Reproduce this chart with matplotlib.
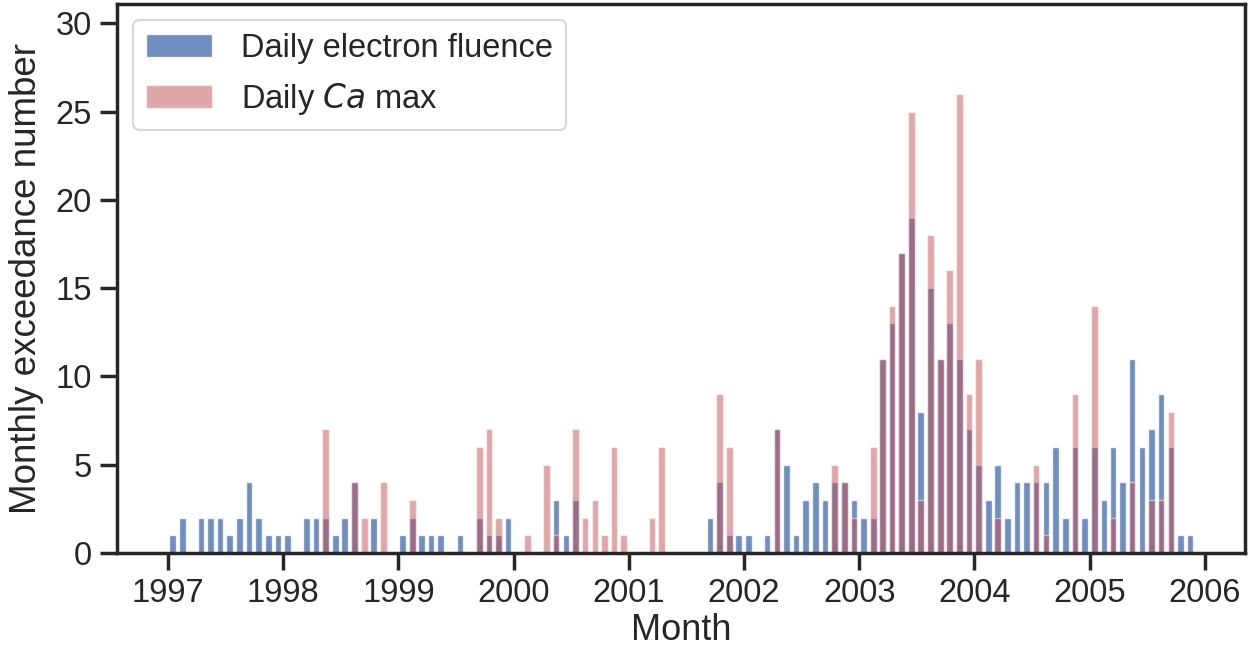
import matplotlib
matplotlib.use("Agg")
import matplotlib.pyplot as plt
import matplotlib.dates as mdates
import numpy as np
import pandas as pd

# monthly counts, Jan 1997 .. Dec 2005
electron = [
    1, 2, 0, 2, 2, 2, 1, 2, 4, 2, 1, 1,      # 1997
    1, 0, 2, 2, 2, 1, 2, 4, 0, 2, 0, 0,      # 1998
    1, 2, 1, 1, 1, 0, 1, 0, 2, 1, 1, 2,      # 1999
    0, 0, 0, 0, 3, 1, 3, 0, 0, 0, 0, 0,      # 2000
    0, 0, 0, 0, 0, 0, 0, 0, 2, 4, 1, 1,      # 2001
    1, 0, 1, 7, 5, 1, 3, 4, 3, 4, 4, 3,      # 2002
    2, 2, 11, 13, 17, 19, 8, 15, 11, 13, 11, 7,  # 2003
    5, 3, 5, 2, 4, 4, 4, 4, 6, 2, 6, 2,      # 2004
    6, 3, 6, 4, 11, 6, 7, 9, 6, 1, 1, 0,     # 2005
]
ca_max = [
    0, 0, 0, 0, 0, 0, 0, 0, 0, 0, 0, 0,
    0, 0, 0, 0, 7, 0, 0, 4, 2, 0, 4, 0,
    0, 3, 0, 0, 0, 0, 0, 0, 6, 7, 2, 0,
    0, 1, 0, 5, 1, 0, 7, 2, 3, 1, 6, 1,
    0, 0, 2, 6, 0, 0, 0, 0, 0, 9, 6, 0,
    0, 0, 0, 7, 0, 0, 0, 0, 0, 5, 4, 2,
    0, 6, 11, 14, 17, 25, 3, 18, 11, 16, 26, 9,
    11, 0, 2, 0, 0, 0, 5, 1, 0, 0, 9, 0,
    14, 0, 2, 0, 4, 0, 3, 3, 8, 0, 0, 0,
]
months = pd.date_range("1997-01-01", periods=len(electron), freq="MS")

plt.rcParams["font.family"] = ["Liberation Sans", "DejaVu Sans"]
plt.rcParams["text.color"] = "#262626"
plt.rcParams["axes.labelcolor"] = "#262626"
plt.rcParams["xtick.color"] = "#262626"
plt.rcParams["ytick.color"] = "#262626"

fig = plt.figure(figsize=(12.5, 6.52), dpi=100)
ax = fig.add_axes([0.0936, 0.152, 0.9024, 0.842])

x = months + pd.Timedelta(days=14)
ax.bar(x, electron, width=21, color="#4c72b0", alpha=0.8,
       edgecolor="white", linewidth=1, label="Daily electron fluence")
ax.bar(x, ca_max, width=21, color="#c44e52", alpha=0.5,
       edgecolor="white", linewidth=1, label="Daily $\\it{Ca}$ max")

ax.set_xlim(pd.Timestamp("1996-07-23"), pd.Timestamp("2006-05-08"))
ax.set_ylim(0, 31.1)
ax.set_yticks([0, 5, 10, 15, 20, 25, 30])
ax.xaxis.set_major_locator(mdates.YearLocator())
ax.xaxis.set_major_formatter(mdates.DateFormatter("%Y"))

ax.set_xlabel("Month", fontsize=26, labelpad=3)
ax.set_ylabel("Monthly exceedance number", fontsize=26.5, labelpad=8)
ax.tick_params(axis="both", labelsize=23.5, length=12, width=2.5, pad=6)
for s in ax.spines.values():
    s.set_linewidth(2.5)
    s.set_color("#262626")

leg = ax.legend(loc="upper left", fontsize=23.5, frameon=True, fancybox=True,
                handlelength=2.0, handletextpad=0.9)
leg.get_frame().set_edgecolor("#cccccc")
leg.get_frame().set_linewidth(1.5)

fig.savefig("out.png", dpi=100)
